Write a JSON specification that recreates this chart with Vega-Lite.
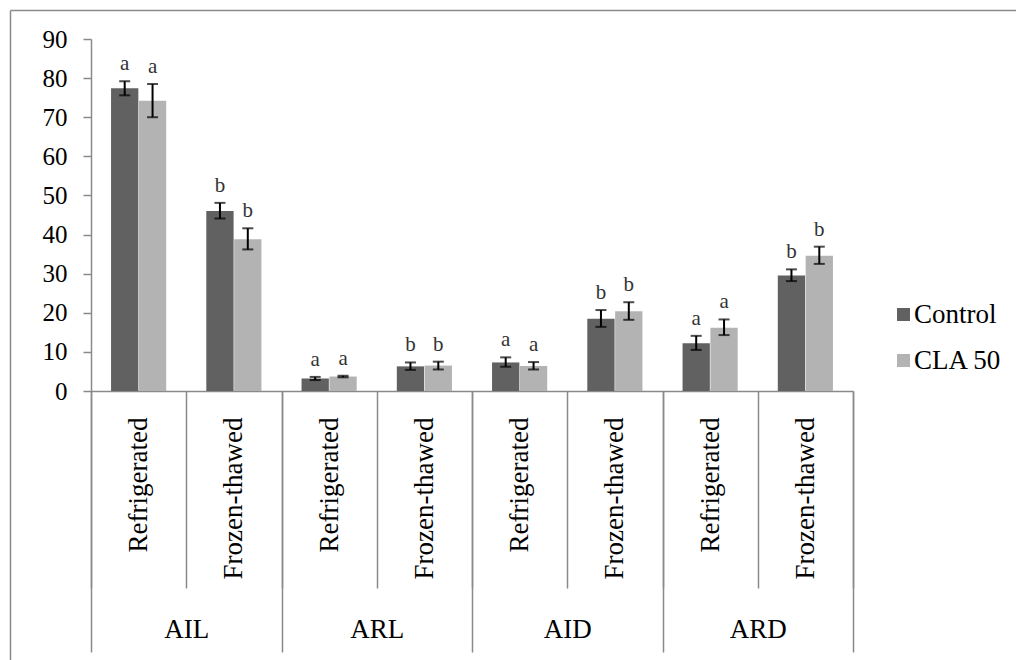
{
  "$schema": "https://vega.github.io/schema/vega-lite/v6.json",
  "width": 1006,
  "height": 650,
  "autosize": {"type": "none"},
  "padding": {"left": 10, "top": 10, "right": 0, "bottom": 0},
  "background": "white",
  "config": {
    "font": "Liberation Serif, Times New Roman, DejaVu Serif, serif",
    "view": {"stroke": null},
    "text": {"font": "Liberation Serif, Times New Roman, DejaVu Serif, serif"},
    "legend": {"labelFont": "Liberation Serif, Times New Roman, DejaVu Serif, serif"},
    "axis": {"grid": false, "domainColor": "#8a8a8a", "tickColor": "#8a8a8a", "domainWidth": 1.5, "tickWidth": 1.5, "labelColor": "#000000", "labelFont": "Liberation Serif, Times New Roman, DejaVu Serif, serif"}
  },
  "data": {
    "values": [
      {"key": "AIL|Refrigerated", "group": "AIL", "cond": "Refrigerated", "series": "Control", "mean": 77.4, "lo": 75.6, "hi": 79.2, "letter": "a"},
      {"key": "AIL|Refrigerated", "group": "AIL", "cond": "Refrigerated", "series": "CLA 50", "mean": 74.2, "lo": 70.0, "hi": 78.5, "letter": "a"},
      {"key": "AIL|Frozen-thawed", "group": "AIL", "cond": "Frozen-thawed", "series": "Control", "mean": 46.0, "lo": 44.1, "hi": 48.1, "letter": "b"},
      {"key": "AIL|Frozen-thawed", "group": "AIL", "cond": "Frozen-thawed", "series": "CLA 50", "mean": 38.8, "lo": 36.2, "hi": 41.6, "letter": "b"},
      {"key": "ARL|Refrigerated", "group": "ARL", "cond": "Refrigerated", "series": "Control", "mean": 3.2, "lo": 2.8, "hi": 3.6, "letter": "a"},
      {"key": "ARL|Refrigerated", "group": "ARL", "cond": "Refrigerated", "series": "CLA 50", "mean": 3.7, "lo": 3.5, "hi": 3.9, "letter": "a"},
      {"key": "ARL|Frozen-thawed", "group": "ARL", "cond": "Frozen-thawed", "series": "Control", "mean": 6.3, "lo": 5.4, "hi": 7.3, "letter": "b"},
      {"key": "ARL|Frozen-thawed", "group": "ARL", "cond": "Frozen-thawed", "series": "CLA 50", "mean": 6.5, "lo": 5.5, "hi": 7.5, "letter": "b"},
      {"key": "AID|Refrigerated", "group": "AID", "cond": "Refrigerated", "series": "Control", "mean": 7.3, "lo": 6.2, "hi": 8.6, "letter": "a"},
      {"key": "AID|Refrigerated", "group": "AID", "cond": "Refrigerated", "series": "CLA 50", "mean": 6.4, "lo": 5.5, "hi": 7.4, "letter": "a"},
      {"key": "AID|Frozen-thawed", "group": "AID", "cond": "Frozen-thawed", "series": "Control", "mean": 18.5, "lo": 16.4, "hi": 20.7, "letter": "b"},
      {"key": "AID|Frozen-thawed", "group": "AID", "cond": "Frozen-thawed", "series": "CLA 50", "mean": 20.4, "lo": 18.2, "hi": 22.7, "letter": "b"},
      {"key": "ARD|Refrigerated", "group": "ARD", "cond": "Refrigerated", "series": "Control", "mean": 12.2, "lo": 10.5, "hi": 14.1, "letter": "a"},
      {"key": "ARD|Refrigerated", "group": "ARD", "cond": "Refrigerated", "series": "CLA 50", "mean": 16.2, "lo": 14.3, "hi": 18.3, "letter": "a"},
      {"key": "ARD|Frozen-thawed", "group": "ARD", "cond": "Frozen-thawed", "series": "Control", "mean": 29.5, "lo": 28.1, "hi": 31.1, "letter": "b"},
      {"key": "ARD|Frozen-thawed", "group": "ARD", "cond": "Frozen-thawed", "series": "CLA 50", "mean": 34.6, "lo": 32.5, "hi": 36.9, "letter": "b"}
    ]
  },
  "layer": [
    {
      "encoding": {
        "x": {
          "field": "key", "type": "nominal", "sort": null,
          "scale": {"type": "band", "range": [81, 843], "paddingInner": 0, "paddingOuter": 0},
          "axis": {
            "title": null, "orient": "bottom", "offset": -269, "tickBand": "extent", "tickSize": 197,
            "labelAngle": -90, "labelAlign": "right", "labelBaseline": "middle", "labelPadding": -171,
            "labelFontSize": 27, "labelExpr": "split(datum.value, '|')[1]", "labelOverlap": false, "labelBound": false
          }
        },
        "xOffset": {"field": "series", "type": "nominal", "sort": ["Control", "CLA 50"], "scale": {"paddingInner": 0.02, "paddingOuter": 0.72}}
      },
      "layer": [
        {
          "mark": {"type": "bar"},
          "encoding": {
            "y": {
              "field": "mean", "type": "quantitative",
              "scale": {"domain": [0, 90], "range": [381, 29], "nice": false, "zero": true},
              "axis": {"title": null, "orient": "left", "offset": -81, "values": [0, 10, 20, 30, 40, 50, 60, 70, 80, 90], "tickSize": 8, "labelPadding": 16, "labelFontSize": 25}
            },
            "color": {
              "field": "series", "type": "nominal",
              "scale": {"domain": ["Control", "CLA 50"], "range": ["#616161", "#b3b3b3"]},
              "legend": {
                "title": null, "orient": "none", "legendX": 880, "legendY": 291, "padding": 0,
                "symbolType": "square", "symbolSize": 169, "symbolStrokeWidth": 0,
                "labelFontSize": 27, "labelColor": "#000000",
                "rowPadding": 18, "labelOffset": -3
              }
            }
          }
        },
        {
          "mark": {"type": "rule", "color": "#000000", "strokeWidth": 2},
          "encoding": {
            "y": {"field": "lo", "type": "quantitative", "title": null},
            "y2": {"field": "hi"}
          }
        },
        {
          "mark": {"type": "tick", "color": "#000000", "thickness": 2, "size": 11, "orient": "horizontal"},
          "encoding": {"y": {"field": "lo", "type": "quantitative", "title": null}}
        },
        {
          "mark": {"type": "tick", "color": "#000000", "thickness": 2, "size": 11, "orient": "horizontal"},
          "encoding": {"y": {"field": "hi", "type": "quantitative", "title": null}}
        },
        {
          "mark": {"type": "text", "dy": -17, "fontSize": 21, "color": "#333333", "baseline": "middle"},
          "encoding": {
            "y": {"field": "hi", "type": "quantitative", "title": null},
            "text": {"field": "letter"}
          }
        }
      ]
    },
    {
      "mark": {"type": "point", "opacity": 0},
      "encoding": {
        "x": {
          "field": "group", "type": "nominal", "sort": null,
          "scale": {"type": "band", "range": [81, 843], "paddingInner": 0, "paddingOuter": 0},
          "axis": {
            "title": null, "orient": "bottom", "offset": -269, "domain": false, "tickBand": "extent", "tickSize": 261,
            "labelPadding": -23, "labelBaseline": "middle", "labelFontSize": 27, "labelAngle": 0
          }
        },
        "y": {
          "field": "mean", "type": "quantitative",
          "axis": {"title": null, "orient": "left", "offset": 0, "labels": false, "ticks": false, "domain": true}
        }
      }
    },
    {
      "mark": {"type": "point", "opacity": 0},
      "encoding": {
        "x": {
          "field": "key", "type": "nominal",
          "axis": {"title": null, "orient": "top", "labels": false, "ticks": false, "domain": true}
        }
      }
    }
  ],
  "resolve": {
    "scale": {"x": "independent", "y": "independent"},
    "axis": {"x": "independent", "y": "independent"}
  }
}
